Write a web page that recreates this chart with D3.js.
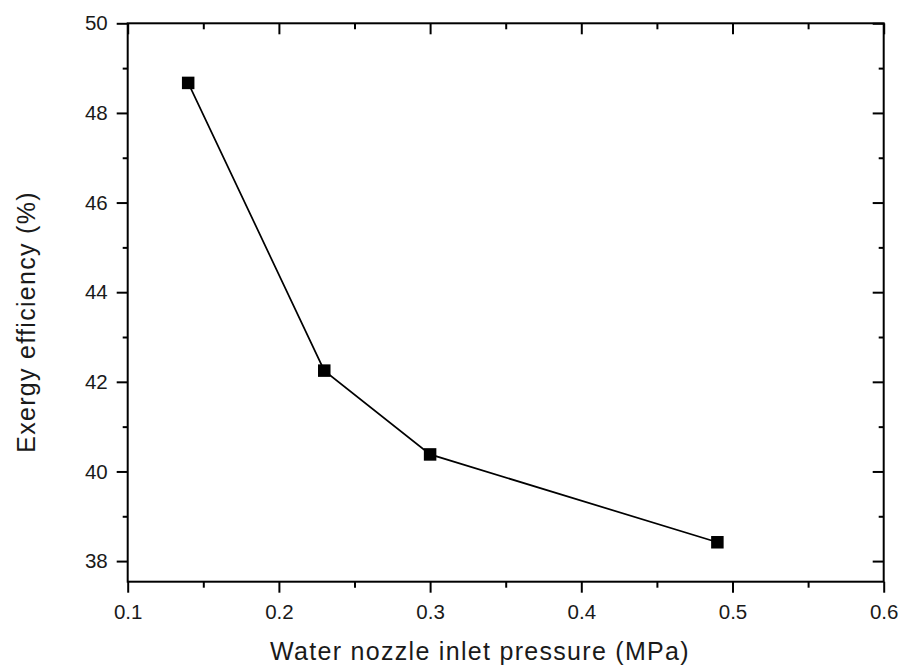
<!DOCTYPE html>
<html><head><meta charset="utf-8">
<script src="https://cdn.jsdelivr.net/npm/d3@7"></script>
<style>body{margin:0;background:#fff}svg{display:block}</style>
</head><body>
<script>
const pressure = [0.14, 0.23, 0.30, 0.49];
const efficiency = [48.67, 42.25, 40.38, 38.42];
const xTicks = [0.1, 0.2, 0.3, 0.4, 0.5, 0.6];
const yTicks = [38, 40, 42, 44, 46, 48, 50];
const xTitle = "Water nozzle inlet pressure (MPa)";
const yTitle = "Exergy efficiency (%)";

const W = 903, H = 671;
const m = {left: 127.7, right: 903 - 883.7, top: 23.3, bottom: 671 - 581.7};
const svg = d3.select("body").append("svg").attr("width", W).attr("height", H);
const x = d3.scaleLinear().domain([0.1, 0.6]).range([m.left, W - m.right]);
const y = d3.scaleLinear().domain([37.54, 50]).range([H - m.bottom, m.top]);
const font = "'Liberation Sans', Arial, sans-serif";

const xMinor = d3.range(0.15, 0.6, 0.1);
const yMinor = d3.range(39, 50, 2);

function styleAxis(g){
  g.selectAll("path.domain").remove();
  g.selectAll("line").attr("stroke","#000").attr("stroke-width",2);
  g.selectAll("text").attr("font-family",font).attr("font-size",20.5).attr("fill","#1a1a1a");
}
// bottom
svg.append("g").attr("transform",`translate(0,${y.range()[0]})`)
  .call(d3.axisBottom(x).tickValues(xTicks).tickSize(11).tickPadding(11.7).tickFormat(d3.format(".1f")))
  .call(styleAxis);
svg.append("g").attr("transform",`translate(0,${y.range()[0]})`)
  .call(d3.axisBottom(x).tickValues(xMinor).tickSize(6).tickFormat(""))
  .call(styleAxis);
// top (inward)
svg.append("g").attr("transform",`translate(0,${m.top})`)
  .call(d3.axisBottom(x).tickValues(xTicks).tickSize(11).tickFormat("")).call(styleAxis);
svg.append("g").attr("transform",`translate(0,${m.top})`)
  .call(d3.axisBottom(x).tickValues(xMinor).tickSize(6).tickFormat("")).call(styleAxis);
// left
svg.append("g").attr("transform",`translate(${m.left},0)`)
  .call(d3.axisLeft(y).tickValues(yTicks).tickSize(11).tickPadding(9)).call(styleAxis);
svg.append("g").attr("transform",`translate(${m.left},0)`)
  .call(d3.axisLeft(y).tickValues(yMinor).tickSize(5).tickFormat("")).call(styleAxis);
// right (inward)
svg.append("g").attr("transform",`translate(${W - m.right},0)`)
  .call(d3.axisLeft(y).tickValues(yTicks).tickSize(11).tickFormat("")).call(styleAxis);
svg.append("g").attr("transform",`translate(${W - m.right},0)`)
  .call(d3.axisLeft(y).tickValues(yMinor).tickSize(5).tickFormat("")).call(styleAxis);

// frame
svg.append("rect").attr("x",m.left).attr("y",m.top)
  .attr("width",W-m.right-m.left).attr("height",H-m.bottom-m.top)
  .attr("fill","none").attr("stroke","#000").attr("stroke-width",2);

const data = pressure.map((p,i)=>({p, e: efficiency[i]}));
svg.append("path").datum(data)
  .attr("d", d3.line().x(d=>x(d.p)).y(d=>y(d.e)))
  .attr("fill","none").attr("stroke","#000").attr("stroke-width",1.7);
const s = 12.5;
svg.selectAll("rect.pt").data(data).join("rect").attr("class","pt")
  .attr("x",d=>x(d.p)-s/2).attr("y",d=>y(d.e)-s/2)
  .attr("width",s).attr("height",s).attr("fill","#000");

svg.append("text").attr("x",480).attr("y",660)
  .attr("text-anchor","middle").attr("font-family",font).attr("font-size",25)
  .attr("letter-spacing",1.3).attr("fill","#1a1a1a")
  .text(xTitle);
svg.append("text").attr("transform",`translate(35,322) rotate(-90)`)
  .attr("text-anchor","middle").attr("font-family",font).attr("font-size",25)
  .attr("letter-spacing",1.3).attr("fill","#1a1a1a")
  .text(yTitle);
</script>
</body></html>
